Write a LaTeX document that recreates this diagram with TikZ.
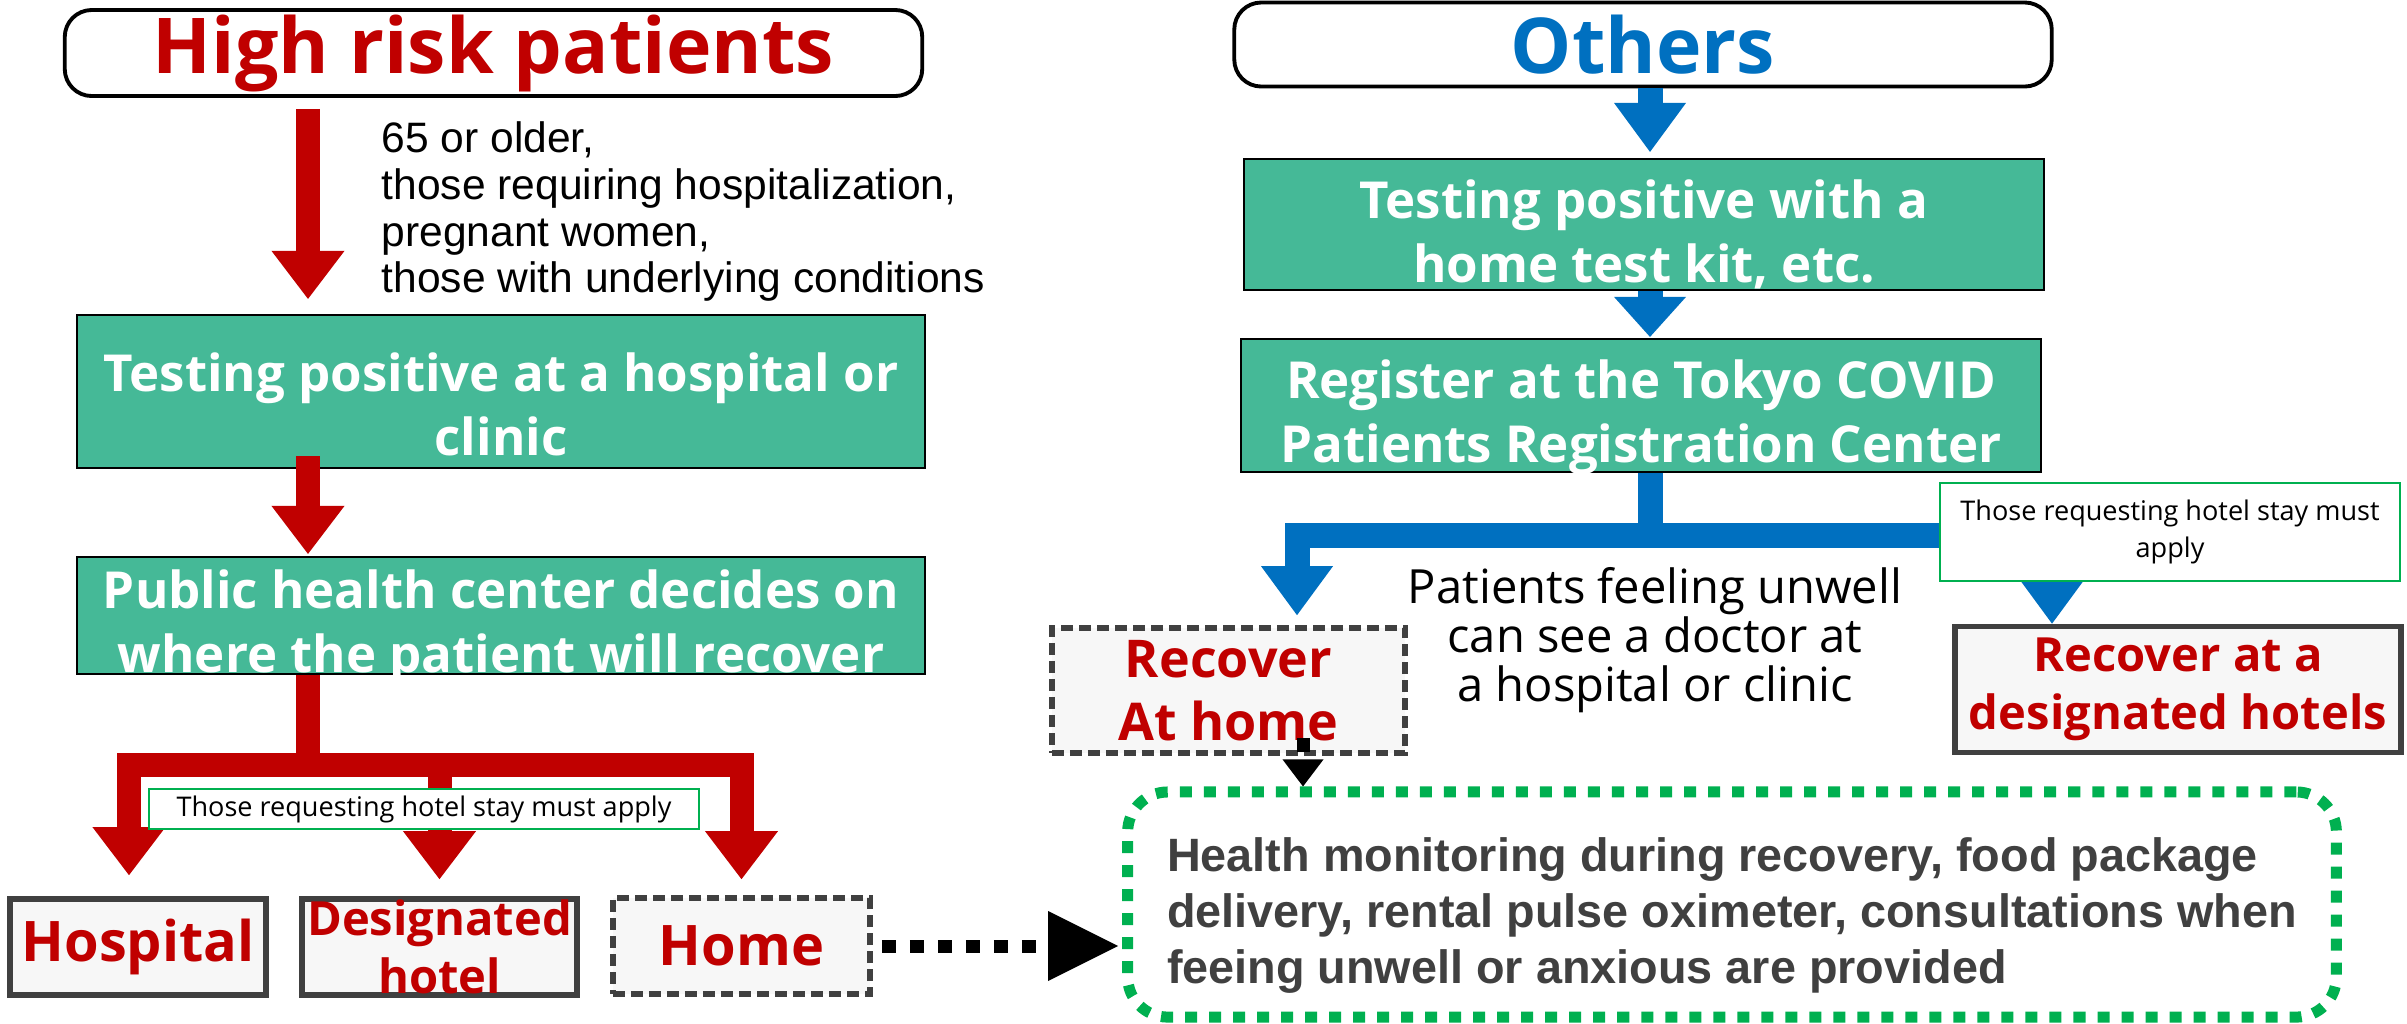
\documentclass[tikz,border=0pt]{standalone}
\usepackage{fontspec}
\setmainfont{Open Sans}
\newfontfamily\arialfont{Liberation Sans}
\usetikzlibrary{arrows.meta}

\definecolor{tealfill}{HTML}{45B997}
\definecolor{riskred}{HTML}{C00000}
\definecolor{otherblue}{HTML}{0070C0}
\definecolor{notegreen}{HTML}{00B050}
\definecolor{framegray}{HTML}{404040}
\definecolor{palegray}{HTML}{F7F7F7}

\tikzset{
  headbox/.style={draw=black, line width=1.1pt, rounded corners=0.27cm, fill=white, inner sep=0pt,
    font=\bfseries\fontsize{21.9}{26}\selectfont},
  tealbox/.style={draw=black, line width=0.6pt, fill=tealfill, inner sep=0pt},
  tealtext/.style={text=white, align=center, inner sep=0pt, font=\bfseries\fontsize{14.5}{18.2}\selectfont},
  placebox/.style={draw=framegray, line width=1.6pt, fill=palegray, text=riskred, align=center, inner sep=0pt},
  homebox/.style={placebox, dash pattern=on 0.12cm off 0.06cm},
  notebox/.style={draw=notegreen, line width=0.7pt, fill=white, align=center, inner sep=0pt,
    font=\fontsize{7.7}{10.5}\selectfont},
  carebox/.style={draw=notegreen, line width=0.11cm, dash pattern=on 0.12cm off 0.12cm, rounded corners=0.4cm, inner sep=0pt},
  redbar/.style={draw=riskred, line width=0.24cm},
  redflow/.style={redbar, -{Triangle[width=0.73cm, length=0.48cm, line width=0pt]}},
  bluebar/.style={draw=otherblue, line width=0.25cm},
  blueflow/.style={bluebar, -{Triangle[width=0.72cm, length=0.49cm, line width=0pt]}},
  dotflow/.style={draw=black, line width=0.13cm, dash pattern=on 0.14cm off 0.14cm,
    -{Triangle[width=0.7cm, length=0.7cm, line width=0pt]}},
}

\begin{document}
\begin{tikzpicture}[x=0.01cm, y=-0.01cm]
\useasboundingbox (0,0) rectangle (2407,1023);

% high risk side
\node[headbox, text=riskred, minimum width=8.57cm, minimum height=0.86cm] (high) at (493.5,53) {High risk patients};
\node[anchor=north west, align=left, inner sep=0pt, font=\arialfont\fontsize{12.1}{13.3}\selectfont] (criteria) at (381,121)
  {65 or older,\\those requiring hospitalization,\\pregnant women,\\those with underlying conditions};

\node[tealbox, minimum width=8.48cm, minimum height=1.53cm] (testA) at (501,391.5) {};
\node[tealtext] (testAtext) at ([yshift=-0.13cm]testA.center) {Testing positive at a hospital or\\clinic};
\node[tealbox, minimum width=8.48cm, minimum height=1.17cm] (pubA) at (501,615.5) {};
\node[tealtext] (pubAtext) at ([yshift=-0.12cm]pubA.center) {Public health center decides on\\where the patient will recover};

\node[placebox, minimum width=2.56cm, minimum height=0.96cm, font=\bfseries\fontsize{15.9}{18}\selectfont] (hosp) at (138,947) {Hospital};
\node[placebox, minimum width=2.75cm, minimum height=0.96cm, font=\bfseries\fontsize{13.4}{16.5}\selectfont] (desig) at (439.5,947) {Designated\\hotel};
\node[homebox, minimum width=2.57cm, minimum height=0.96cm, font=\bfseries\fontsize{15.9}{18}\selectfont] (homeA) at (741.5,946) {Home};

\coordinate (redx) at (308,0);
\coordinate (rsplit) at (308,765);
\coordinate (rleft) at (129,765);
\draw[redflow, shorten <=0.11cm, shorten >=0.15cm] (high.south -| redx) -- (testA.north -| redx);
\draw[redflow, shorten <=-0.13cm, shorten >=0.02cm] (testA.south -| redx) -- (pubA.north -| redx);
\draw[redbar] (pubA.south -| redx) -- (rsplit);
\draw[redflow, shorten >=0.21cm] (rsplit) -| (hosp.north -| rleft);
\draw[redflow, shorten >=0.17cm] (rsplit) -| (desig.north);
\draw[redflow, shorten >=0.16cm] (rsplit) -| (homeA.north);

\node[notebox, minimum width=5.5cm, minimum height=0.4cm] (noteA) at (424,809) {Those requesting hotel stay must apply};

% others side
\node[headbox, text=otherblue, minimum width=8.17cm, minimum height=0.84cm] (others) at (1643,44.5) {Others};
\node[tealbox, minimum width=8.0cm, minimum height=1.31cm] (testB) at (1644,224.5) {};
\node[tealtext] (testBtext) at ([yshift=-0.1cm]testB.center) {Testing positive with a\\home test kit, etc.};
\node[tealbox, minimum width=8.0cm, minimum height=1.33cm] (regB) at (1641,405.5) {};
\node[tealtext] (regBtext) at ([yshift=-0.12cm]regB.center) {Register at the Tokyo COVID\\Patients Registration Center};

\node[homebox, minimum width=3.53cm, minimum height=1.25cm, font=\bfseries\fontsize{14.8}{17.9}\selectfont] (homeB) at (1228.5,690.5) {Recover\\At home};
\node[placebox, minimum width=4.46cm, minimum height=1.26cm, font=\bfseries\fontsize{13.4}{16.5}\selectfont] (hotelB) at (2178,689.5) {Recover at a\\designated hotels};
\node[align=center, inner sep=0pt, font=\fontsize{13.4}{13.9}\selectfont] (unwell) at (1655,640)
  {Patients feeling unwell\\can see a doctor at\\a hospital or clinic};

\coordinate (bluex) at (1650,0);
\coordinate (bsplit) at (1650,535);
\coordinate (bleft) at (1297,535);
\coordinate (bright) at (2052,535);
\draw[blueflow, shorten >=0.06cm] (others.south -| bluex) -- (testB.north -| bluex);
\draw[bluebar, -{Triangle[width=0.72cm, length=0.4cm, line width=0pt]}, shorten >=0.01cm] (testB.south -| bluex) -- (regB.north -| bluex);
\draw[bluebar] (regB.south -| bluex) -- (bsplit);
\draw[blueflow, shorten >=0.1cm] (bsplit) -| (homeB.north -| bleft);
\draw[blueflow] (bsplit) -| (hotelB.north -| bright);

\node[notebox, minimum width=4.6cm, minimum height=0.98cm] (noteB) at (2170,532) {Those requesting hotel stay must\\apply};

% support box
\node[carebox, minimum width=12.08cm, minimum height=2.25cm] (care) at (1732,904.5) {};
\node[align=left, inner sep=0pt, text=framegray, font=\arialfont\bfseries\fontsize{13.3}{15.9}\selectfont] (caretext) at ([yshift=-0.11cm]care.center)
  {Health monitoring during recovery, food package\\delivery, rental pulse oximeter, consultations when\\feeing unwell or anxious are provided};

\coordinate (dropx) at (1303,0);
\coordinate (dropstart) at (homeB.south -| dropx);
\draw[dotflow, shorten <=0.09cm, shorten >=0.04cm] (homeA.east) -- (homeA.east -| care.west);
\draw[dotflow, -{Triangle[width=0.41cm, length=0.27cm, line width=0pt]}] ([yshift=0.18cm]dropstart) -- (care.north -| dropx);

\end{tikzpicture}
\end{document}
